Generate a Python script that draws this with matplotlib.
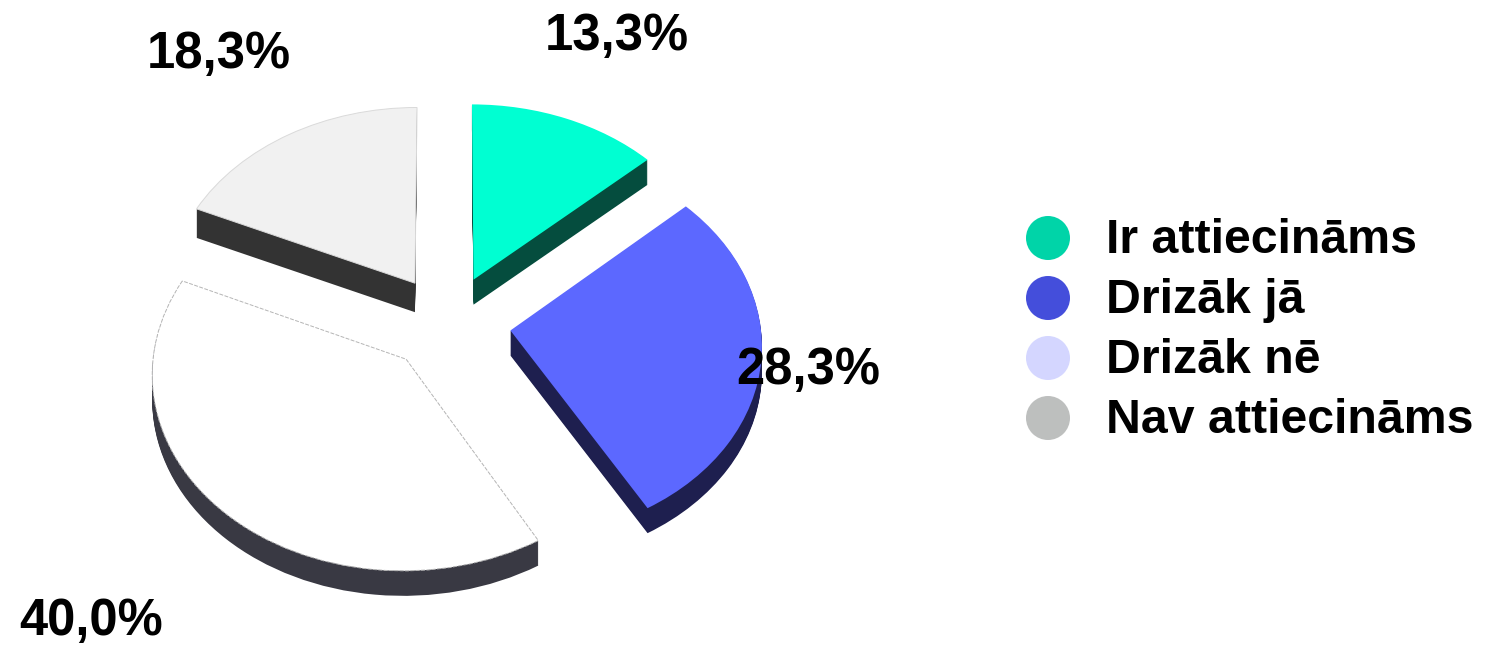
import matplotlib
matplotlib.use("Agg")
import matplotlib.pyplot as plt
import numpy as np
from matplotlib.transforms import Transform, Affine2D
from matplotlib.patches import Circle

plt.rcParams['font.family'] = ['Liberation Sans', 'DejaVu Sans']

categories = ["Ir attiecināms", "Drizāk jā", "Drizāk nē", "Nav attiecināms"]
values = [13.3, 28.3, 40.0, 18.3]
top_colors = ["#00FFD2", "#5C68FF", "#FFFFFF", "#F1F1F1"]
side_colors = ["#054D3E", "#1E1F4F", "#393943", "#333333"]
legend_colors = ["#00D4A8", "#444EDB", "#D4D6FF", "#BDBFBE"]
explode = [0.25, 0.25, 0.25, 0.25]

W, H = 1489, 647


class Tilt(Transform):
    """Perspective view of the pie plane, from unit pie space to pixels."""
    input_dims = 2
    output_dims = 2
    is_separable = False
    has_inverse = False

    def __init__(self, cx, cy, a, b, k):
        super().__init__()
        self.cx, self.cy, self.a, self.b, self.k = cx, cy, a, b, k

    def transform_non_affine(self, xy):
        xy = np.asarray(xy, float)
        s = 1.0 / (1.0 + self.k * xy[:, 1])
        return np.column_stack((self.cx + self.a * xy[:, 0] * s,
                                self.cy - self.b * xy[:, 1] * s))


fig = plt.figure(figsize=(W / 100, H / 100), dpi=100)
ax = fig.add_axes([0, 0, 1, 1])

tilt = Tilt(448.5, 323, 250, 192.5, 0.0666)


def draw_pie(colors, shift, **props):
    wedges, _ = ax.pie(values, explode=explode, colors=colors, startangle=90,
                       counterclock=False, radius=1.0, wedgeprops=props)
    for w in wedges:
        w.set_transform(tilt + Affine2D().translate(0, shift) + ax.transData)
    return wedges


depths = [25, 25, 25, 29]
for d in np.arange(29, 0, -1.0):
    wedges = draw_pie(side_colors, d, linewidth=0)
    for w, dep in zip(wedges, depths):
        if d > dep:
            w.set_visible(False)

tops = draw_pie(top_colors, 0, linewidth=0)
tops[2].set(edgecolor="#B5B5B5", linewidth=0.7, linestyle=(0, (4, 1.5)))
tops[3].set(edgecolor="#DADADA", linewidth=0.7)

ax.set_aspect('auto')
ax.set_xlim(0, W)
ax.set_ylim(H, 0)
ax.axis('off')

label_fs = 50.8 * 72 / 100
legend_fs = 48.3 * 72 / 100

label_pos = [(617, 50), (808, 384), (91, 635), (219, 68)]
for v, (x, y) in zip(values, label_pos):
    ax.text(x, y, f"{v:.1f}".replace('.', ',') + "%", ha='center', va='baseline',
            fontsize=label_fs, fontweight='bold', color='black')

legend_y = [238, 298, 358, 418]
for name, col, y in zip(categories, legend_colors, legend_y):
    ax.add_patch(Circle((1048, y), 22, facecolor=col, edgecolor='none'))
    ax.text(1106, y + 15, name, ha='left', va='baseline',
            fontsize=legend_fs, fontweight='bold', color='black')

fig.savefig("out.png", dpi=100, facecolor='white')
